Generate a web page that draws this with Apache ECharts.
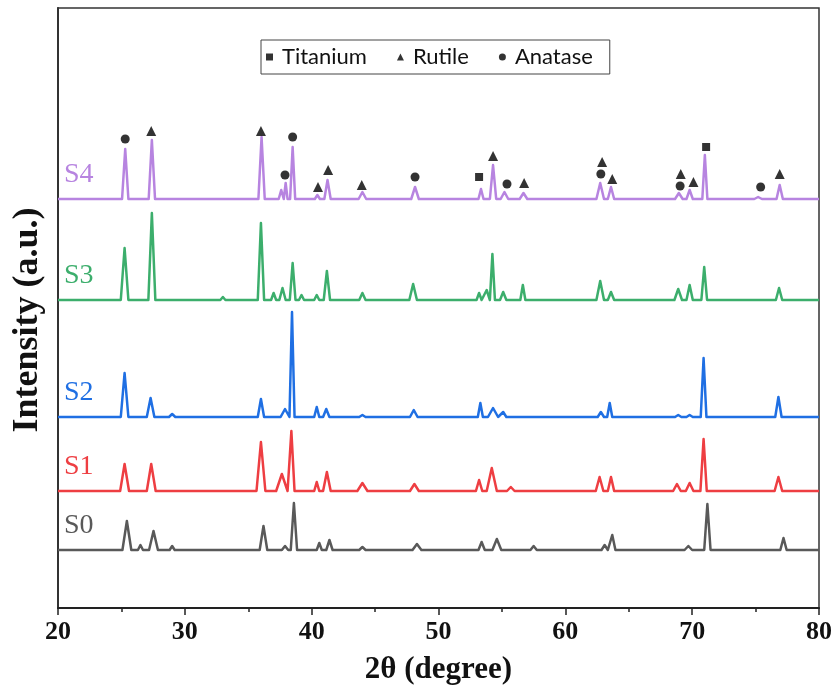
<!DOCTYPE html>
<html>
<head>
<meta charset="utf-8">
<script src="https://cdn.jsdelivr.net/npm/echarts@6/dist/echarts.min.js"></script>
<style>
  html, body { margin: 0; background: #fff; }
  #chart { width: 836px; height: 693px; }
</style>
</head>
<body>
<div id="chart"></div>
<script>
// sample names and the vertical offset (baseline) of each pattern
const sampleNames = ['S0', 'S1', 'S2', 'S3', 'S4'];
const sampleColors = ['#595959', '#ee3e42', '#1f6fe3', '#3cae6c', '#b784e0'];
const baselines = [58, 117, 191, 308, 409];

// peaks: [2θ, height above baseline, base width]
const peaksS0 = [[25.43, 29, 0.7], [26.5, 5, 0.4], [27.53, 19, 0.7], [29.0, 4, 0.4], [36.2, 24, 0.6], [37.9, 4, 0.5],
  [38.6, 47, 0.5], [40.6, 7, 0.4], [41.4, 10, 0.5], [44.0, 3, 0.5], [48.3, 6, 0.7], [53.4, 8, 0.5], [54.6, 11, 0.7],
  [57.5, 4, 0.5], [63.1, 5, 0.5], [63.7, 15, 0.5], [69.7, 4, 0.6], [71.2, 46, 0.5], [77.2, 12, 0.5]];
const peaksS1 = [[25.25, 27, 0.7], [27.35, 27, 0.7], [36.0, 49, 0.7], [37.65, 17, 0.9], [38.4, 60, 0.5], [40.4, 9, 0.4],
  [41.2, 19, 0.6], [44.0, 8, 0.8], [48.1, 7, 0.7], [53.2, 11, 0.5], [54.2, 23, 0.8], [55.7, 4, 0.6], [62.7, 14, 0.6],
  [63.6, 14, 0.5], [68.8, 7, 0.6], [69.8, 8, 0.6], [70.9, 52, 0.5], [76.8, 14, 0.6]];
const peaksS2 = [[25.25, 44, 0.6], [27.3, 19, 0.6], [29.0, 3, 0.5], [36.0, 18, 0.5], [37.9, 8, 0.7], [38.45, 105, 0.4],
  [40.4, 10, 0.4], [41.15, 8, 0.5], [44.0, 2, 0.5], [48.05, 7, 0.6], [53.3, 14, 0.4], [54.3, 9, 0.8], [55.1, 5, 0.5],
  [62.8, 5, 0.5], [63.5, 14, 0.4], [68.9, 2, 0.5], [69.8, 2, 0.5], [70.9, 59, 0.45], [76.8, 20, 0.5]];
const peaksS3 = [[25.25, 52, 0.6], [27.4, 87, 0.55], [33.0, 3, 0.4], [36.0, 77, 0.5], [37.0, 7, 0.4], [37.7, 12, 0.5],
  [38.5, 37, 0.45], [39.2, 5, 0.4], [40.4, 5, 0.4], [41.2, 29, 0.5], [44.0, 7, 0.5], [48.0, 16, 0.6], [53.2, 7, 0.4],
  [53.8, 10, 0.5], [54.25, 46, 0.4], [55.1, 8, 0.5], [56.65, 15, 0.4], [62.75, 19, 0.6], [63.6, 8, 0.5],
  [68.9, 11, 0.6], [69.8, 15, 0.5], [70.95, 33, 0.45], [76.85, 12, 0.5]];
const peaksS4 = [[25.3, 50, 0.5], [27.4, 59, 0.5], [36.05, 62, 0.5], [37.6, 9, 0.4], [37.95, 16, 0.3], [38.5, 52, 0.4],
  [40.45, 4, 0.4], [41.25, 19, 0.5], [44.0, 7, 0.6], [48.15, 12, 0.6], [53.35, 10, 0.4], [54.3, 34, 0.5],
  [55.2, 7, 0.6], [56.7, 6, 0.6], [62.75, 16, 0.6], [63.6, 12, 0.5], [68.95, 6, 0.6], [69.8, 9, 0.5],
  [71.0, 44, 0.4], [75.2, 2, 0.6], [76.9, 14, 0.5]];
const allPeaks = [peaksS0, peaksS1, peaksS2, peaksS3, peaksS4];

// phase markers above S4: [2θ, intensity]
const titanium = [[53.2, 431], [71.1, 461]];
const rutile = [[27.35, 477], [36.0, 477], [40.5, 421], [41.3, 438], [43.95, 423], [54.3, 452], [56.75, 425],
  [62.9, 446], [63.7, 429], [69.1, 434], [70.1, 426], [76.9, 434]];
const anatase = [[25.3, 469], [37.9, 433], [38.5, 471], [48.15, 431], [55.4, 424], [62.8, 434], [69.05, 422], [75.4, 421]];

const xMin = 20, xMax = 80;

function buildTrace(base, peaks) {
  const pts = [[xMin, base]];
  peaks.forEach(([x, h, w]) => {
    pts.push([x - w / 2, base], [x, base + h], [x + w / 2, base]);
  });
  pts.push([xMax, base]);
  return pts;
}

const chart = echarts.init(document.getElementById('chart'));

const traceSeries = sampleNames.map((name, i) => ({
  name: name,
  type: 'line',
  data: buildTrace(baselines[i], allPeaks[i]),
  showSymbol: false,
  silent: true,
  lineStyle: { color: sampleColors[i], width: 2.5, join: 'round' },
  z: 2
}));

const markerSeries = [
  { name: 'Titanium', type: 'scatter', data: titanium, symbol: 'rect', symbolSize: 8 },
  { name: 'Rutile', type: 'scatter', data: rutile, symbol: 'triangle', symbolSize: 10 },
  { name: 'Anatase', type: 'scatter', data: anatase, symbol: 'circle', symbolSize: 9 }
].map(s => Object.assign(s, { itemStyle: { color: '#000' }, z: 3 }));

const option = {
  backgroundColor: '#fff',
  animation: false,
  grid: {
    left: 58, right: 17, top: 8, bottom: 85,
    show: true, borderColor: '#333', borderWidth: 1.5
  },
  legend: {
    data: ['Titanium', 'Rutile', 'Anatase'],
    left: 261, top: 40,
    itemWidth: 7, itemHeight: 7, itemGap: 30,
    padding: [6, 17, 6, 5],
    borderColor: '#444', borderWidth: 1,
    textStyle: { fontFamily: 'Lato', fontSize: 22, color: '#111', padding: [0, 0, 0, 4] }
  },
  xAxis: {
    type: 'value',
    min: xMin, max: xMax, interval: 10,
    name: '2θ (degree)',
    nameLocation: 'middle',
    nameGap: 46,
    nameTextStyle: { fontFamily: 'Liberation Serif', fontWeight: 'bold', fontSize: 31, color: '#111' },
    axisLine: { lineStyle: { color: '#222', width: 2 } },
    axisTick: { show: true, length: 7, lineStyle: { color: '#222', width: 1.5 } },
    minorTick: { show: true, splitNumber: 2, length: 4, lineStyle: { color: '#222', width: 1.5 } },
    splitLine: { show: false },
    axisLabel: { margin: 11, fontFamily: 'Liberation Serif', fontWeight: 'bold', fontSize: 26, color: '#111' }
  },
  yAxis: {
    type: 'value',
    min: 0, max: 600,
    axisLine: { show: true, lineStyle: { color: '#333', width: 2 } },
    axisTick: { show: false },
    axisLabel: { show: false },
    splitLine: { show: false }
  },
  series: traceSeries.concat(markerSeries)
};

chart.setOption(option);

// sample labels just left of each pattern, above its baseline; plus the y title
const graphics = sampleNames.map((name, i) => {
  const p = chart.convertToPixel({ gridIndex: 0 }, [xMin, baselines[i] + 24]);
  return {
    type: 'text',
    x: p[0] + 6,
    y: p[1],
    style: {
      text: name,
      fill: sampleColors[i],
      font: '28px "Liberation Serif"',
      textAlign: 'left',
      textVerticalAlign: 'middle'
    },
    z: 10
  };
});
graphics.push({
  type: 'text',
  x: 28,
  y: 320,
  rotation: Math.PI / 2,
  style: {
    text: 'Intensity (a.u.)',
    fill: '#111',
    font: 'bold 36px "Liberation Serif"',
    textAlign: 'center',
    textVerticalAlign: 'middle'
  }
});
chart.setOption({ graphic: graphics });
</script>
</body>
</html>
